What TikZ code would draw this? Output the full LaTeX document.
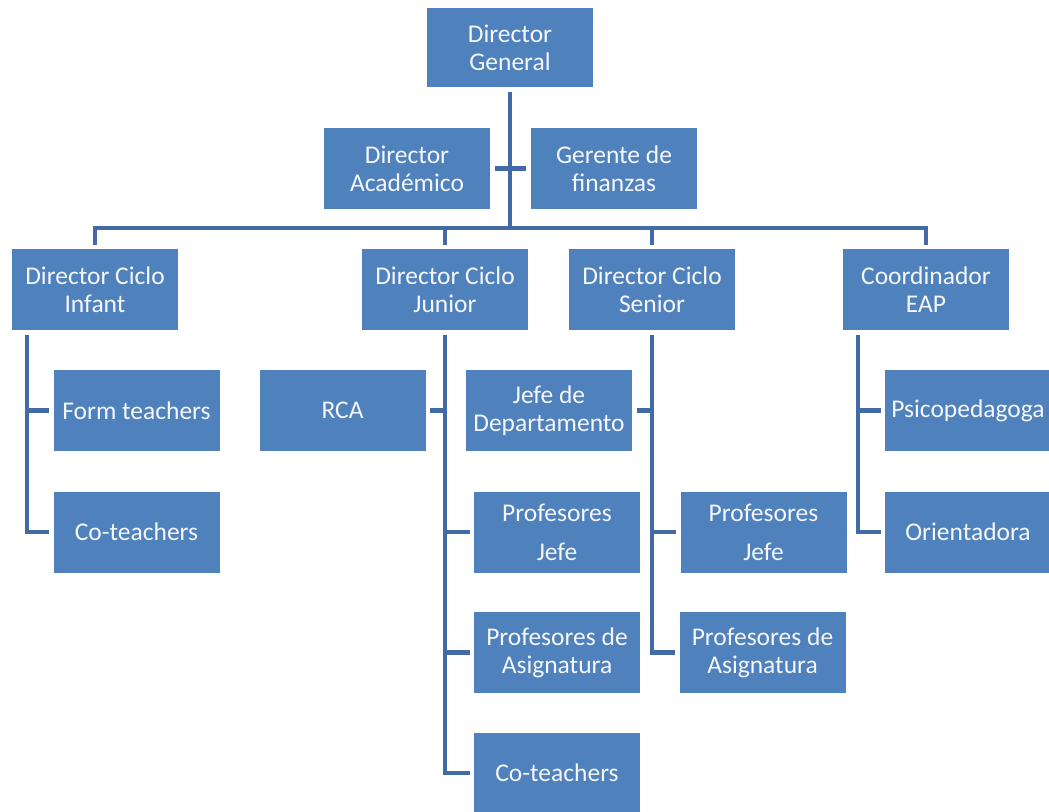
\documentclass[tikz,border=0pt]{standalone}
\usepackage{fontspec}
\setmainfont{Carlito}
\usetikzlibrary{calc}
\definecolor{boxblue}{RGB}{79,129,189}
\definecolor{lineblue}{RGB}{66,106,166}
\definecolor{txt}{RGB}{245,247,252}
\begin{document}
\begin{tikzpicture}[x=1pt,y=-1pt,
  orgbox/.style={rectangle, fill=boxblue, text=txt, minimum width=166pt, minimum height=81pt,
    inner sep=0pt, align=center, font=\fontsize{25.5}{28}\selectfont},
  wide/.style={font=\fontsize{25.5}{39}\selectfont},
  conn/.style={draw=lineblue, line width=4.5pt}]
\useasboundingbox (0,0) rectangle (1049,811);
% top
\node[orgbox, minimum height=79pt] (dg) at (510,47.5) {Director\\General};
\node[orgbox] (da) at (407,168.5) {Director\\Académico};
\node[orgbox] (gf) at (614,168.5) {Gerente de\\finanzas};
% level 2
\node[orgbox] (inf) at (95,289.5) {Director Ciclo\\Infant};
\node[orgbox] (jun) at (445,289.5) {Director Ciclo\\Junior};
\node[orgbox] (sen) at (652,289.5) {Director Ciclo\\Senior};
\node[orgbox] (eap) at (926,289.5) {Coordinador\\EAP};
% infant children
\node[orgbox] (form) at (136.5,410.5) {Form teachers};
\node[orgbox] (coinf) at (136.5,532) {Co-teachers};
% junior children
\node[orgbox] (rca) at (342.5,410.5) {RCA};
\node[orgbox, wide] (pj1) at (557,532) {Profesores\\Jefe};
\node[orgbox] (pa1) at (557,652.5) {Profesores de\\Asignatura};
\node[orgbox] (cojun) at (557,773) {Co-teachers};
% senior children
\node[orgbox] (jefe) at (549,410.5) {Jefe de\\Departamento};
\node[orgbox, wide] (pj2) at (763.5,532) {Profesores\\Jefe};
\node[orgbox] (pa2) at (762.5,652.5) {Profesores de\\Asignatura};
% eap children
\node[orgbox] (psi) at (968,410.5) {Psicopedagoga};
\node[orgbox] (ori) at (968,532) {Orientadora};
% coordinates
\coordinate (busL) at (95,228);
\coordinate (busR) at (926,228);
\coordinate (busM) at (510,228);
\coordinate (infT) at ($(inf.south west)+(15,5)$);
\coordinate (junT) at ($(jun.south)+(0,5)$);
\coordinate (senT) at ($(sen.south)+(0,5)$);
\coordinate (eapT) at ($(eap.south west)+(15,5)$);
% trunk and bus
\draw[conn] ($(dg.south)+(0,5)$) -- (busM);
\draw[conn] ($(da.east)+(5,0)$) -- ($(gf.west)+(-5,0)$);
\draw[conn] ($(busL)+(0,-2.25)$) -- (busL) -- (busR) -- ($(busR)+(0,-2.25)$);
\draw[conn] (busL) -- ($(inf.north)+(0,-4)$);
\draw[conn] (jun.north |- busL) -- ($(jun.north)+(0,-4)$);
\draw[conn] (sen.north |- busL) -- ($(sen.north)+(0,-4)$);
\draw[conn] (busR) -- ($(eap.north)+(0,-4)$);
% infant
\draw[conn] (infT) |- ($(coinf.west)+(-4,0)$);
\draw[conn] (infT |- form.west) -- ($(form.west)+(-4,0)$);
% junior
\draw[conn] (junT) |- ($(cojun.west)+(-4,0)$);
\draw[conn] (junT |- rca.east) -- ($(rca.east)+(4,0)$);
\draw[conn] (junT |- pj1.west) -- ($(pj1.west)+(-4,0)$);
\draw[conn] (junT |- pa1.west) -- ($(pa1.west)+(-4,0)$);
% senior
\draw[conn] (senT) |- ($(pa2.west)+(-4,0)$);
\draw[conn] (senT |- jefe.east) -- ($(jefe.east)+(5,0)$);
\draw[conn] (senT |- pj2.west) -- ($(pj2.west)+(-4,0)$);
% eap
\draw[conn] (eapT) |- ($(ori.west)+(-4,0)$);
\draw[conn] (eapT |- psi.west) -- ($(psi.west)+(-4,0)$);
\end{tikzpicture}
\end{document}
